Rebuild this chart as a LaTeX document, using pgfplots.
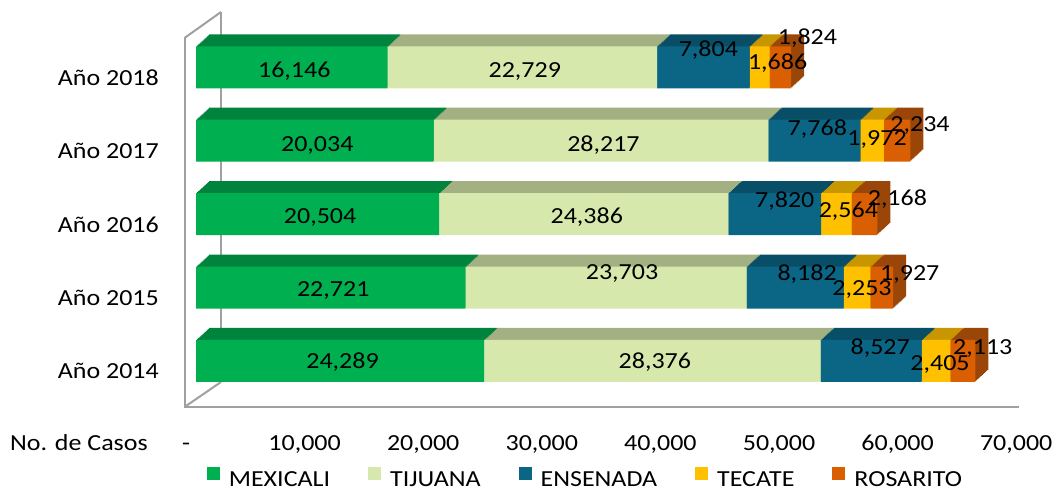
\documentclass[border=0pt]{standalone}
\usepackage{fontspec}
\setmainfont{Carlito}[FakeStretch=1.13]
\usepackage{pgfplots}
\usepackage{pgfplotstable}
\pgfplotsset{compat=1.18}

\definecolor{mexF}{HTML}{00B050}
\definecolor{mexT}{HTML}{00843D}
\definecolor{tijF}{HTML}{D6E8AC}
\definecolor{tijT}{HTML}{A2B082}
\definecolor{ensF}{HTML}{0B6686}
\definecolor{ensT}{HTML}{084E66}
\definecolor{tecF}{HTML}{FFC000}
\definecolor{tecT}{HTML}{C89600}
\definecolor{rosF}{HTML}{D95F02}
\definecolor{rosT}{HTML}{9A4608}
\definecolor{wall}{HTML}{A0A0A0}

% y: 0 = Año 2014 ... 4 = Año 2018
% m = MEXICALI, t = TIJUANA, e = ENSENADA, c = TECATE, r = ROSARITO
% ?dx, ?dy = offsets of the data labels (pt)
\pgfplotstableread{
y m t e c r mdx mdy tdx tdy edx edy cdx cdy rdx rdy
0 24289 28376 8527 2405 2113 2.5 -0.5 2.5 -0.5 9 14 4 -2 20 14
1 22721 23703 8182 2253 1927 2.5 -1.5 16 15 12 14 5 -1 28 14
2 20504 24386 7820 2564 2168 2.5 -2 3 -2 10 14 12 4 33 16
3 20034 28217 7768 1972 2234 2.5 -3 2.5 -3 3 13 5 3 23 17
4 16146 22729 7804 1686 1824 2.5 -3 2.5 -2.5 5 18 18 5 27 30
}\data

\pgfplotsset{
  base/.style={scale only axis, width=842.2pt, height=369pt,
    xmin=-1012, xmax=70000, ymin=-0.6267, ymax=4.399, anchor=south west},
  bars/.style={xbar stacked, bar width=42pt},
  lab/.style={draw=none, mark=none,
    nodes near coords={\pgfmathprintnumber[fixed,precision=0,1000 sep={,},assume math mode=true]{\pgfplotspointmeta}},
    point meta=explicit,
    every node near coord/.append style={anchor=base, inner sep=0pt, text=black, yshift=-7.3pt}},
}

\begin{document}
\fontsize{23}{27}\selectfont
\begin{tikzpicture}[font=\fontsize{23}{27}\selectfont]
\useasboundingbox (0pt,0pt) rectangle (1058pt,493pt);
% wall and floor
\draw[wall, line width=2pt] (221pt,481pt) -- (221pt,111pt);
\draw[wall, line width=2pt] (184.5pt,86pt) -- (221pt,111pt);
\draw[wall, line width=2pt] (184.5pt,455pt) -- (221pt,481pt);
\draw[wall, line width=2pt] (184.5pt,455pt) -- (184.5pt,86pt) -- (1019pt,86pt);

% depth of the bars
\foreach \k in {12,11,...,1}{
\begin{axis}[base, bars, hide axis, at={({184pt+13pt*\k/12},{86pt+1pt*\k})}]
  \addplot[fill=mexT, draw=none] table[x=m,y=y]{\data};
  \addplot[fill=tijT, draw=none] table[x=t,y=y]{\data};
  \addplot[fill=ensT, draw=none] table[x=e,y=y]{\data};
  \addplot[fill=tecT, draw=none] table[x=c,y=y]{\data};
  \addplot[fill=rosT, draw=none] table[x=r,y=y]{\data};
\end{axis}
}

% front faces
\begin{axis}[base, bars, at={(184pt,86pt)},
  axis line style={draw=none}, tick style={draw=none}, major tick length=0pt,
  ytick={0,1,2,3,4},
  yticklabels={Año 2014,Año 2015,Año 2016,Año 2017,Año 2018},
  yticklabel style={anchor=base east, inner sep=0pt, xshift=-25pt, yshift=-18pt},
  xtick={0,10000,20000,30000,40000,50000,60000,70000},
  xticklabels={{-\hspace{16pt}},{10,000},{20,000},{30,000},{40,000},{50,000},{60,000},{70,000}},
  xticklabel style={anchor=base, inner sep=0pt, xshift=-10pt, yshift=-43pt},
  xlabel={No. de Casos},
  xlabel style={at={(rel axis cs:-0.04275,0)}, anchor=base east, inner sep=0pt, yshift=-43pt},
  legend columns=5,
  legend style={at={(rel axis cs:0.4755,-0.1945)}, anchor=center, draw=none, fill=none,
    inner sep=0pt, nodes={inner sep=0pt},
    /tikz/every odd column/.append style={column sep=9pt},
    /tikz/every even column/.append style={column sep=38pt}},
  legend image code/.code={\fill[#1] (0pt,1pt) rectangle (13pt,14pt);},
]
  \addplot[fill=mexF, draw=none] table[x=m,y=y]{\data};
  \addplot[fill=tijF, draw=none] table[x=t,y=y]{\data};
  \addplot[fill=ensF, draw=none] table[x=e,y=y]{\data};
  \addplot[fill=tecF, draw=none] table[x=c,y=y]{\data};
  \addplot[fill=rosF, draw=none] table[x=r,y=y]{\data};
  \legend{MEXICALI,TIJUANA,ENSENADA,TECATE,ROSARITO}
\end{axis}

% data labels (centre of each segment, plus offset)
\begin{axis}[base, hide axis, clip=false, at={(184pt,86pt)}]
  \addplot[lab] table[x expr={0.5*\thisrow{m}+84.32*\thisrow{mdx}},
    y expr={\thisrow{y}+0.013624*\thisrow{mdy}}, meta=m]{\data};
  \addplot[lab] table[x expr={\thisrow{m}+0.5*\thisrow{t}+84.32*\thisrow{tdx}},
    y expr={\thisrow{y}+0.013624*\thisrow{tdy}}, meta=t]{\data};
  \addplot[lab] table[x expr={\thisrow{m}+\thisrow{t}+0.5*\thisrow{e}+84.32*\thisrow{edx}},
    y expr={\thisrow{y}+0.013624*\thisrow{edy}}, meta=e]{\data};
  \addplot[lab] table[x expr={\thisrow{m}+\thisrow{t}+\thisrow{e}+0.5*\thisrow{c}+84.32*\thisrow{cdx}},
    y expr={\thisrow{y}+0.013624*\thisrow{cdy}}, meta=c]{\data};
  \addplot[lab] table[x expr={\thisrow{m}+\thisrow{t}+\thisrow{e}+\thisrow{c}+0.5*\thisrow{r}+84.32*\thisrow{rdx}},
    y expr={\thisrow{y}+0.013624*\thisrow{rdy}}, meta=r]{\data};
\end{axis}
\end{tikzpicture}
\end{document}
